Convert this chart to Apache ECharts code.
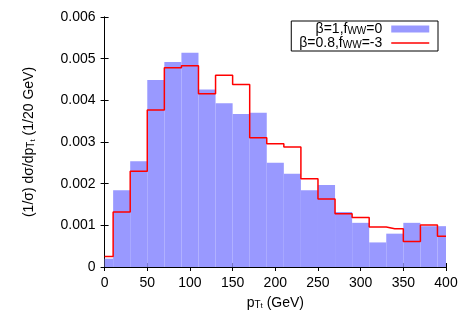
<!DOCTYPE html>
<html>
<head>
<meta charset="utf-8">
<script src="https://cdn.jsdelivr.net/npm/echarts@6/dist/echarts.min.js"></script>
<style>html,body{margin:0;padding:0;background:#fff}#c{width:469px;height:328px}</style>
</head>
<body>
<div id="c"></div>
<script>
// bin centers (GeV), bin width 20 GeV
const binCenters = [0,20,40,60,80,100,120,140,160,180,200,220,240,260,280,300,320,340,360,380,400];
const binWidth = 20;
const seriesBlue = [0.00020,0.00184,0.00254,0.00449,0.00492,0.00514,0.00426,0.00393,0.00367,0.00370,0.00250,0.00224,0.00184,0.00197,0.00132,0.00106,0.00059,0.00080,0.00106,0.00098,0.00098];
const seriesRed  = [0.00025,0.00132,0.00230,0.00377,0.00478,0.00483,0.00416,0.00460,0.00438,0.00310,0.00296,0.00288,0.00212,0.00163,0.00128,0.00119,0.00096,0.00092,0.00061,0.00101,0.00074];
const nameBlue = 'β=1,fWW=0';
const nameRed = 'β=0.8,fWW=-3';
const xTicks = [0,50,100,150,200,250,300,350,400];
const yTicks = [0,0.001,0.002,0.003,0.004,0.005,0.006];

const FONT = '"Liberation Sans", Arial, Helvetica, sans-serif';
const rich = {
  n: {fontSize: 14, lineHeight: 14, fontFamily: FONT, color: '#000'},
  s: {fontSize: 10, lineHeight: 6, verticalAlign: 'bottom', fontFamily: FONT, color: '#000'},
  ss: {fontSize: 8, lineHeight: 2, verticalAlign: 'bottom', fontFamily: FONT, color: '#000'}
};
const legendLabels = {};
legendLabels[nameBlue] = '{n|β=1,f}{s|WW}{n|=0}';
legendLabels[nameRed] = '{n|β=0.8,f}{s|WW}{n|=-3}';

const xMin = xTicks[0], xMax = xTicks[xTicks.length-1];
const yMin = yTicks[0], yMax = yTicks[yTicks.length-1];

const chart = echarts.init(document.getElementById('c'), null, {renderer: 'canvas'});
const axisCommon = {
  axisLine: {show: true, lineStyle: {color: '#000', width: 1}},
  axisTick: {show: true, inside: true, length: 4, lineStyle: {color: '#000'}},
  splitLine: {show: false}
};
chart.setOption({
  animation: false,
  backgroundColor: '#fff',
  grid: {left: 104.6, right: 23, top: 17, bottom: 61, containLabel: false},
  legend: {
    orient: 'vertical',
    align: 'right',
    right: 31, top: 21,
    padding: [1, 8, 1, 8],
    itemGap: 0,
    itemWidth: 38,
    itemHeight: 7,
    borderColor: '#000',
    borderWidth: 1,
    borderRadius: 0,
    formatter: n => legendLabels[n],
    textStyle: {rich: rich, padding: [0, 4, 0, 0]},
    data: [
      {name: nameBlue, icon: 'rect', itemStyle: {color: '#9999ff'}},
      {name: nameRed, itemStyle: {color: 'rgba(0,0,0,0)', borderWidth: 0, borderColor: 'rgba(0,0,0,0)'},
       lineStyle: {color: '#ff0000', width: 1.5}}
    ]
  },
  xAxis: [
    Object.assign({
      type: 'value', min: xMin, max: xMax, interval: 50, position: 'bottom',
      axisLabel: {color: '#000', fontSize: 14, fontFamily: FONT, margin: 9},
      name: '{n|p}{s|T}{ss|t}{n| (GeV)}',
      nameLocation: 'middle', nameGap: 29,
      nameTextStyle: {rich: rich}
    }, axisCommon),
    Object.assign({
      type: 'value', min: xMin, max: xMax, interval: 50, position: 'top',
      axisLabel: {show: false}
    }, axisCommon)
  ],
  yAxis: [
    Object.assign({
      type: 'value', min: yMin, max: yMax, interval: 0.001, position: 'left',
      axisLabel: {color: '#000', fontSize: 14, fontFamily: FONT, margin: 9},
      name: '{n|(1/σ) dσ/dp}{s|T}{ss|t}{n| (1/20 GeV)}',
      nameLocation: 'middle', nameGap: 68, nameRotate: 90,
      nameTextStyle: {rich: rich}
    }, axisCommon),
    Object.assign({
      type: 'value', min: yMin, max: yMax, interval: 0.001, position: 'right',
      axisLabel: {show: false}
    }, axisCommon)
  ],
  series: [
    {
      name: nameBlue,
      type: 'custom',
      xAxisIndex: 0, yAxisIndex: 0,
      itemStyle: {color: '#9999ff'},
      data: binCenters.map((c, i) => [c, seriesBlue[i]]),
      renderItem: function (params, api) {
        const c = api.value(0), v = api.value(1);
        const x0 = Math.max(xMin, c - binWidth / 2);
        const x1 = Math.min(xMax, c + binWidth / 2);
        const p0 = api.coord([x0, v]);
        const p1 = api.coord([x1, 0]);
        return {
          type: 'rect',
          shape: {x: p0[0], y: p0[1], width: p1[0] - p0[0], height: p1[1] - p0[1]},
          style: {fill: '#9999ff'}
        };
      },
      z: 1
    },
    {
      name: nameRed,
      type: 'line',
      step: 'middle',
      showSymbol: false,
      symbol: 'none',
      data: binCenters.map((c, i) => [c, seriesRed[i]]),
      lineStyle: {color: '#ff0000', width: 1.5},
      itemStyle: {color: '#ff0000'},
      z: 3
    }
  ]
});
</script>
</body>
</html>
